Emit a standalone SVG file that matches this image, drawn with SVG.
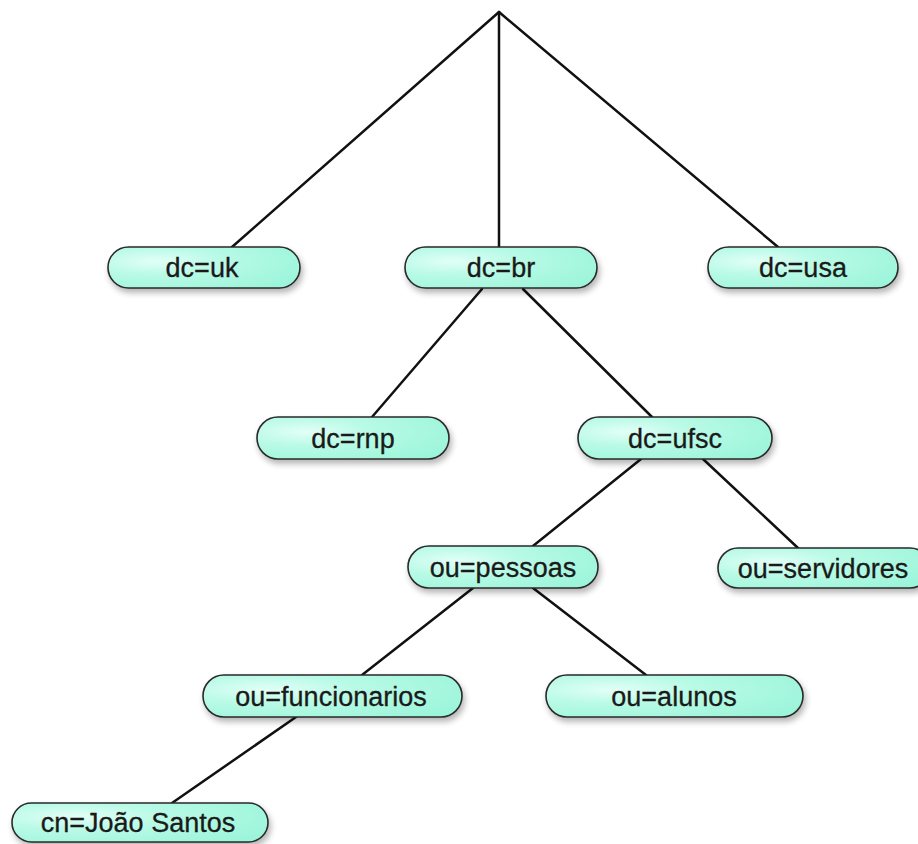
<svg xmlns="http://www.w3.org/2000/svg" width="918" height="844" viewBox="0 0 918 844">
<defs>
<radialGradient id="g" cx="0.25" cy="0.35" r="0.85">
<stop offset="0" stop-color="#e2fff6"/>
<stop offset="0.4" stop-color="#b8fae6"/>
<stop offset="1" stop-color="#9cf5da"/>
</radialGradient>
<filter id="sh" x="-10%" y="-30%" width="125%" height="170%">
<feGaussianBlur in="SourceAlpha" stdDeviation="3"/>
<feOffset dx="2" dy="4" result="b"/>
<feComponentTransfer><feFuncA type="linear" slope="0.3"/></feComponentTransfer>
<feMerge><feMergeNode/><feMergeNode in="SourceGraphic"/></feMerge>
</filter>
</defs>
<style>
.n rect{fill:url(#g);stroke:#2a2a2a;stroke-width:1.6;filter:url(#sh)}
.n text{font-family:"Liberation Sans",Arial,sans-serif;font-size:27px;fill:#1a1a1a;stroke:#1a1a1a;stroke-width:0.3;text-anchor:middle}
.c line{stroke:#111;stroke-width:2.5;stroke-linecap:round}
</style>
<rect width="918" height="844" fill="#fff"/>
<g id="connectors" class="c">
<line x1="499" y1="12" x2="232" y2="247"/>
<line x1="499" y1="12" x2="499" y2="247"/>
<line x1="499" y1="12" x2="778" y2="247"/>
<line x1="482" y1="289" x2="372" y2="417"/>
<line x1="523" y1="289" x2="652" y2="417"/>
<line x1="641" y1="459" x2="533" y2="546"/>
<line x1="703" y1="459" x2="798" y2="548"/>
<line x1="473" y1="588" x2="362" y2="675"/>
<line x1="533" y1="588" x2="646" y2="675"/>
<line x1="296" y1="717" x2="172" y2="803"/>
</g>
<g id="dc-uk" class="n"><rect x="108" y="247" width="192" height="41" rx="20.5"/><text x="202" y="277">dc=uk</text></g>
<g id="dc-br" class="n"><rect x="405" y="247" width="192" height="41" rx="20.5"/><text x="501" y="277">dc=br</text></g>
<g id="dc-usa" class="n"><rect x="708" y="247" width="190" height="41" rx="20.5"/><text x="803" y="277">dc=usa</text></g>
<g id="dc-rnp" class="n"><rect x="257" y="417" width="192" height="42" rx="21"/><text x="353" y="448">dc=rnp</text></g>
<g id="dc-ufsc" class="n"><rect x="578" y="417" width="194" height="42" rx="21"/><text x="675" y="448">dc=ufsc</text></g>
<g id="ou-pessoas" class="n"><rect x="408" y="546" width="190" height="42" rx="21"/><text x="503" y="577">ou=pessoas</text></g>
<g id="ou-servidores" class="n"><rect x="718" y="548" width="212" height="40" rx="20"/><text x="823" y="578">ou=servidores</text></g>
<g id="ou-funcionarios" class="n"><rect x="203" y="675" width="259" height="42" rx="21"/><text x="331" y="706">ou=funcionarios</text></g>
<g id="ou-alunos" class="n"><rect x="546" y="675" width="257" height="42" rx="21"/><text x="674" y="706">ou=alunos</text></g>
<g id="cn-joao" class="n"><rect x="12" y="803" width="256" height="39" rx="19.5"/><text x="138" y="832">cn=João Santos</text></g>
</svg>
